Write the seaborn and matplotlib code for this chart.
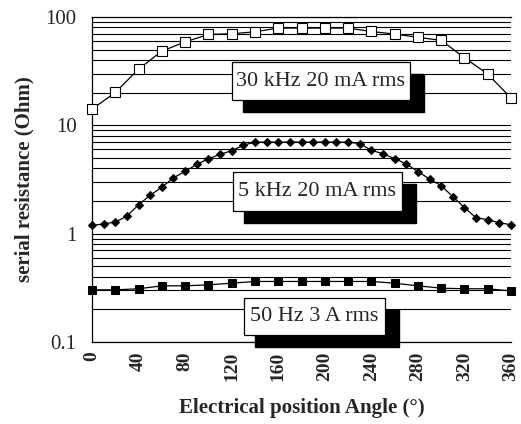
import matplotlib
matplotlib.use("Agg")
import seaborn as sns
import matplotlib.pyplot as plt
from matplotlib.patches import Rectangle
from matplotlib.ticker import LogLocator, FixedLocator, NullFormatter


# Dados (resistência série em Ohm).
angulo_20 = list(range(0, 361, 20))
angulo_10 = list(range(0, 361, 10))

r_30khz = [14.1, 20.1, 33.0, 48.4, 58.9, 69.0, 70.0, 73.0, 79.0, 79.0,
           79.0, 79.0, 73.5, 69.6, 64.9, 60.9, 42.1, 29.7, 17.9]
r_5khz = [1.19, 1.23, 1.28, 1.45, 1.85, 2.26, 2.69, 3.27, 3.77, 4.35,
          4.92, 5.39, 5.84, 6.55, 7.0, 7.0, 7.0, 7.0, 7.0, 7.0,
          7.0, 7.0, 7.0, 6.79, 5.88, 5.47, 4.92, 4.41, 3.74, 3.2,
          2.77, 2.2, 1.74, 1.4, 1.35, 1.26, 1.21]
r_50hz = [0.303, 0.303, 0.31, 0.33, 0.33, 0.337, 0.349, 0.362, 0.362, 0.362,
          0.362, 0.362, 0.362, 0.349, 0.33, 0.314, 0.31, 0.31, 0.296]

rotulos = ["30 kHz 20 mA rms", "5 kHz 20 mA rms", "50 Hz 3 A rms"]
x_ticks = list(range(0, 361, 40))
y_ticks = [0.1, 1, 10, 100]

sns.set_style("white")
plt.rcParams["font.family"] = ["Liberation Serif", "DejaVu Serif"]

W, H = 521, 424
fig = plt.figure(figsize=(W / 100, H / 100), dpi=100)
ax = fig.add_axes([92 / W, 1 - 342 / H, 419 / W, 325 / H])

sns.lineplot(x=angulo_20, y=r_30khz, ax=ax, color="black", lw=0.9,
             marker="s", markersize=6.5, markerfacecolor="white",
             markeredgecolor="black", markeredgewidth=0.8, clip_on=False, zorder=3)
sns.lineplot(x=angulo_10, y=r_5khz, ax=ax, color="black", lw=0.9,
             marker="D", markersize=4.5, markerfacecolor="black",
             markeredgecolor="black", clip_on=False, zorder=3)
sns.lineplot(x=angulo_20, y=r_50hz, ax=ax, color="black", lw=0.9,
             marker="s", markersize=6, markerfacecolor="black",
             markeredgecolor="black", clip_on=False, zorder=3)

ax.set_yscale("log")
ax.set_xlim(0, 360)
ax.set_ylim(0.1, 100)

ax.yaxis.set_major_locator(FixedLocator(y_ticks))
ax.set_yticklabels(["0.1", "1", "10", "100"], fontsize=15)
ax.yaxis.set_minor_locator(LogLocator(base=10, subs=range(2, 10)))
ax.yaxis.set_minor_formatter(NullFormatter())
ax.tick_params(axis="y", which="major", length=5, width=0.8, color="black", pad=6)
ax.tick_params(axis="y", which="minor", length=0)

ax.set_xticks(x_ticks)
ax.set_xticklabels([str(t) for t in x_ticks], rotation=90, fontsize=14,
                   fontweight="bold")
ax.tick_params(axis="x", length=0, pad=7)

ax.grid(True, which="both", axis="y", color="black", lw=0.8)
ax.grid(False, axis="x")

for lado in ["left", "bottom", "top"]:
    ax.spines[lado].set_color("black")
    ax.spines[lado].set_linewidth(0.9)
ax.spines["right"].set_visible(False)

ax.set_xlabel("Electrical position Angle (°)", fontsize=15, fontweight="bold",
              labelpad=12)
ax.set_ylabel("serial resistance (Ohm)", fontsize=15, fontweight="bold",
              labelpad=8)

# Caixas de legenda com sombra preta (coordenadas em pixels da figura).
caixas = [(232, 62, 410, 100), (233, 172, 402, 211), (244, 298, 385, 335)]
for texto, (x0, y0, x1, y1) in zip(rotulos, caixas):
    sombra = Rectangle(((x0 + 11) / W, 1 - (y1 + 12) / H), (x1 - x0 + 3) / W,
                       (y1 - y0) / H, transform=fig.transFigure,
                       facecolor="black", edgecolor="black", zorder=5)
    caixa = Rectangle((x0 / W, 1 - y1 / H), (x1 - x0) / W, (y1 - y0) / H,
                      transform=fig.transFigure, facecolor="white",
                      edgecolor="black", lw=0.9, zorder=6)
    fig.patches.extend([sombra, caixa])
    fig.text((x0 + x1) / 2 / W, 1 - (y0 + y1) / 2 / H, texto, ha="center",
             va="center", fontsize=16, zorder=7)

fig.savefig("out.png", dpi=100)
